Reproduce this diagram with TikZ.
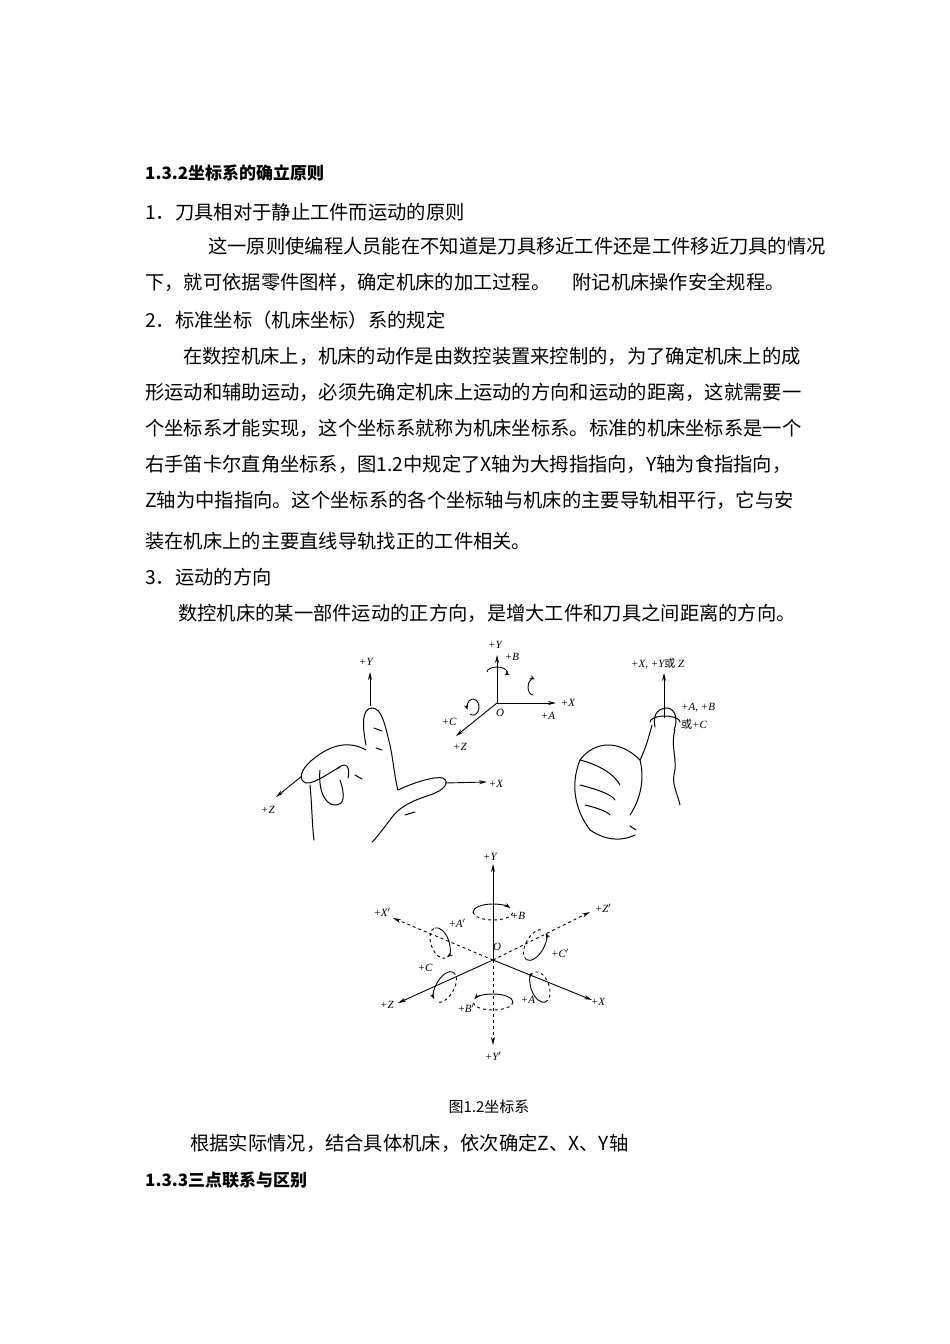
\documentclass[tikz,border=0pt]{standalone}
\usepackage{fontspec}
\setmainfont{Liberation Serif}
\newfontfamily\cjk{Noto Sans CJK SC}
\usetikzlibrary{arrows.meta}
\tikzset{
 txt/.style={anchor=west,inner sep=0pt,font=\fontsize{19.3}{19}\selectfont\cjk},
 btxt/.style={anchor=west,inner sep=0pt,font=\fontsize{17}{17}\selectfont\cjk\bfseries},
 lab/.style={inner sep=0pt,font=\fontsize{11}{11}\selectfont\itshape},
 ax/.style={line width=0.9pt,-{Stealth[length=8pt,width=4pt]}},
 dax/.style={line width=0.9pt,dashed,-{Stealth[length=8pt,width=4pt]}},
 hand/.style={line width=1pt,line cap=round},
 rot/.style={line width=0.9pt}
}
\begin{document}
\begin{tikzpicture}[x=1pt,y=-1pt]
\useasboundingbox[fill=white] (0,0) rectangle (950,1344);
% text
\node[btxt] (t1) at (145,173) {1.3.2坐标系的确立原则};
\node[txt] (t2) at (145,212) {1．刀具相对于静止工件而运动的原则};
\node[txt] (t3) at (208,246) {这一原则使编程人员能在不知道是刀具移近工件还是工件移近刀具的情况};
\node[txt] (t4) at (145,282) {下，就可依据零件图样，确定机床的加工过程。\hspace{22pt}附记机床操作安全规程。};
\node[txt] (t5) at (145,320) {2．标准坐标（机床坐标）系的规定};
\node[txt] (t6) at (183,356) {在数控机床上，机床的动作是由数控装置来控制的，为了确定机床上的成};
\node[txt] (t7) at (145,392) {形运动和辅助运动，必须先确定机床上运动的方向和运动的距离，这就需要一};
\node[txt] (t8) at (145,428) {个坐标系才能实现，这个坐标系就称为机床坐标系。标准的机床坐标系是一个};
\node[txt] (t9) at (145,464) {右手笛卡尔直角坐标系，图1.2中规定了X轴为大拇指指向，Y轴为食指指向，};
\node[txt] (t10) at (145,500) {Z轴为中指指向。这个坐标系的各个坐标轴与机床的主要导轨相平行，它与安};
\node[txt] (t11) at (145,541) {装在机床上的主要直线导轨找正的工件相关。};
\node[txt] (t12) at (145,577) {3．运动的方向};
\node[txt] (t13) at (178,613) {数控机床的某一部件运动的正方向，是增大工件和刀具之间距离的方向。};
\node[inner sep=0pt,font=\fontsize{15}{15}\selectfont\cjk] (cap) at (489,1107) {图1.2坐标系};
\node[txt] (t14) at (190,1143) {根据实际情况，结合具体机床，依次确定Z、X、Y轴};
\node[btxt] (t15) at (145,1180) {1.3.3三点联系与区别};

% ---- left hand ----
\coordinate (ly0) at (370,706); \coordinate (ly1) at (370,672);
\draw[ax] (ly0) -- (ly1);
\node[lab] (lY) at (366,662) {+Y};
\coordinate (lx0) at (445,783); \coordinate (lx1) at (487,782);
\draw[ax] (lx0) -- (lx1);
\node[lab] (lX) at (496,784) {+X};
\coordinate (lz0) at (302,776); \coordinate (lz1) at (276,797);
\draw[ax] (lz0) -- (lz1);
\node[lab] (lZ) at (268,810) {+Z};
\draw[hand] (366,745) .. controls (362,725) and (362,708) .. (372,708) .. controls (382,708) and (385,725) .. (390,745) .. controls (394,765) and (395,780) .. (398,790);
\draw[hand] (366,750) .. controls (348,740) and (330,745) .. (312,760) .. controls (300,770) and (298,780) .. (306,783) .. controls (315,784) and (330,772) .. (340,767);
\draw[hand] (320,770) .. controls (318,790) and (325,805) .. (335,805) .. controls (345,805) and (345,795) .. (340,780);
\draw[hand] (338,768) .. controls (348,760) and (350,770) .. (348,778);
\draw[hand] (398,790) .. controls (415,782) and (435,776) .. (443,778) .. controls (450,782) and (445,790) .. (430,795) .. controls (415,800) and (400,805) .. (390,820) .. controls (382,830) and (375,840) .. (372,842);
\draw[hand] (310,785) .. controls (312,805) and (312,825) .. (314,840);
\draw[hand] (374,728) -- (382,731); \draw[hand] (376,748) -- (382,750);
\draw[hand] (355,775) -- (362,779); \draw[hand] (405,815) -- (415,812);

% ---- middle axes ----
\coordinate (mo) at (497,703);
\coordinate (my) at (497,655); \coordinate (mx) at (556,703); \coordinate (mz) at (456,736);
\draw[ax] (mo) -- (my); \draw[ax] (mo) -- (mx); \draw[ax] (mo) -- (mz);
\node[lab] (mY) at (495,645) {+Y};
\node[lab] (mX) at (568,703) {+X};
\node[lab] (mZ) at (460,747) {+Z};
\node[lab] (mO) at (500,713) {O};
\node[lab] (mB) at (512,657) {+B};
\node[lab] (mA) at (548,716) {+A};
\node[lab] (mC) at (449,722) {+C};
\draw[rot,-{Stealth[length=5pt,width=4pt]}] (487,672) arc[start angle=180,end angle=400,x radius=10,y radius=5];
\draw[rot,-{Stealth[length=5pt,width=4pt]}] (533,695) arc[start angle=90,end angle=290,x radius=5,y radius=8];
\draw[rot,-{Stealth[length=5pt,width=4pt]}] (470,714) arc[start angle=120,end angle=-200,x radius=6,y radius=8];

% ---- right hand ----
\coordinate (ra0) at (664,718); \coordinate (ra1) at (664,673);
\draw[ax] (ra0) -- (ra1);
\node[lab,anchor=west] (rX) at (631,664) {+X, +Y{\cjk 或} Z};
\node[lab,anchor=west] (rA) at (681,708) {+A, +B};
\node[lab,anchor=west] (rC) at (681,724) {{\cjk 或}+C};
\draw[hand] (655,727) .. controls (652,712) and (660,708) .. (668,708) .. controls (676,710) and (678,720) .. (674,730);
\draw[hand] (675,730) .. controls (670,745) and (678,760) .. (674,775) .. controls (672,785) and (678,795) .. (680,805);
\draw[hand] (652,725) .. controls (648,740) and (645,750) .. (640,760);
\draw[hand] (640,760) .. controls (620,740) and (595,740) .. (580,760) .. controls (570,785) and (575,810) .. (590,830) .. controls (605,840) and (620,842) .. (635,835);
\draw[hand] (580,760) .. controls (600,765) and (615,775) .. (620,785);
\draw[hand] (580,785) .. controls (600,790) and (612,795) .. (615,800);
\draw[hand] (585,805) .. controls (598,808) and (608,812) .. (610,815);
\draw[hand] (640,760) .. controls (645,780) and (640,800) .. (630,815);
\draw[hand] (650,722) arc[start angle=180,end angle=360,x radius=15,y radius=6];
\draw[hand] (630,826) -- (636,830);

% ---- bottom figure ----
\coordinate (O) at (493,960);
\coordinate (bY) at (493,864); \coordinate (bYp) at (493,1045);
\coordinate (bX) at (592,1000); \coordinate (bXp) at (393,918);
\coordinate (bZ) at (398,1003); \coordinate (bZp) at (590,912);
\draw[ax] (O) -- (bY); \draw[dax] (O) -- (bYp);
\draw[ax] (O) -- (bX); \draw[dax] (O) -- (bXp);
\draw[ax] (O) -- (bZ); \draw[dax] (O) -- (bZp);
\node[lab] (lbY) at (490,857) {+Y};
\node[lab] (lbYp) at (493,1056) {+Y$'$};
\node[lab] (lbX) at (598,1002) {+X};
\node[lab] (lbXp) at (382,912) {+X$'$};
\node[lab] (lbZ) at (387,1005) {+Z};
\node[lab] (lbZp) at (603,908) {+Z$'$};
\node[lab] (lbO) at (497,947) {O};
\node[lab] (lbB) at (518,916) {+B};
\node[lab] (lbAp) at (457,923) {+A$'$};
\node[lab] (lbCp) at (560,953) {+C$'$};
\node[lab] (lbC) at (425,968) {+C};
\node[lab] (lbA) at (528,1000) {+A};
\node[lab] (lbBp) at (466,1008) {+B$'$};
% B
\draw[rot,dashed] (473,912) arc[start angle=180,end angle=0,x radius=20,y radius=8];
\draw[rot,-{Stealth[length=6pt,width=4pt]}] (473,912) arc[start angle=180,end angle=330,x radius=20,y radius=8];
% B'
\draw[rot,dashed] (513,1002) arc[start angle=0,end angle=180,x radius=20,y radius=8];
\draw[rot,-{Stealth[length=6pt,width=4pt]}] (513,1002) arc[start angle=360,end angle=200,x radius=20,y radius=8];
% A'
\draw[rot,dashed,rotate around={-70:(440,943)}] (440,943) ++(16,0) arc[start angle=0,end angle=180,x radius=16,y radius=9];
\draw[rot,-{Stealth[length=6pt,width=4pt]},rotate around={-70:(440,943)}] (440,943) ++(-16,0) arc[start angle=180,end angle=350,x radius=16,y radius=9];
% C'
\draw[rot,dashed,rotate around={60:(535,945)}] (535,945) ++(-17,0) arc[start angle=180,end angle=360,x radius=17,y radius=9];
\draw[rot,-{Stealth[length=6pt,width=4pt]},rotate around={60:(535,945)}] (535,945) ++(-17,0) arc[start angle=180,end angle=20,x radius=17,y radius=9];
% A
\draw[rot,dashed,rotate around={-70:(540,987)}] (540,987) ++(16,0) arc[start angle=0,end angle=-180,x radius=16,y radius=9];
\draw[rot,-{Stealth[length=6pt,width=4pt]},rotate around={-70:(540,987)}] (540,987) ++(16,0) arc[start angle=0,end angle=170,x radius=16,y radius=9];
% C
\draw[rot,dashed,rotate around={60:(445,987)}] (445,987) ++(17,0) arc[start angle=0,end angle=180,x radius=17,y radius=9];
\draw[rot,-{Stealth[length=6pt,width=4pt]},rotate around={60:(445,987)}] (445,987) ++(17,0) arc[start angle=0,end angle=-160,x radius=17,y radius=9];
\end{tikzpicture}
\end{document}
